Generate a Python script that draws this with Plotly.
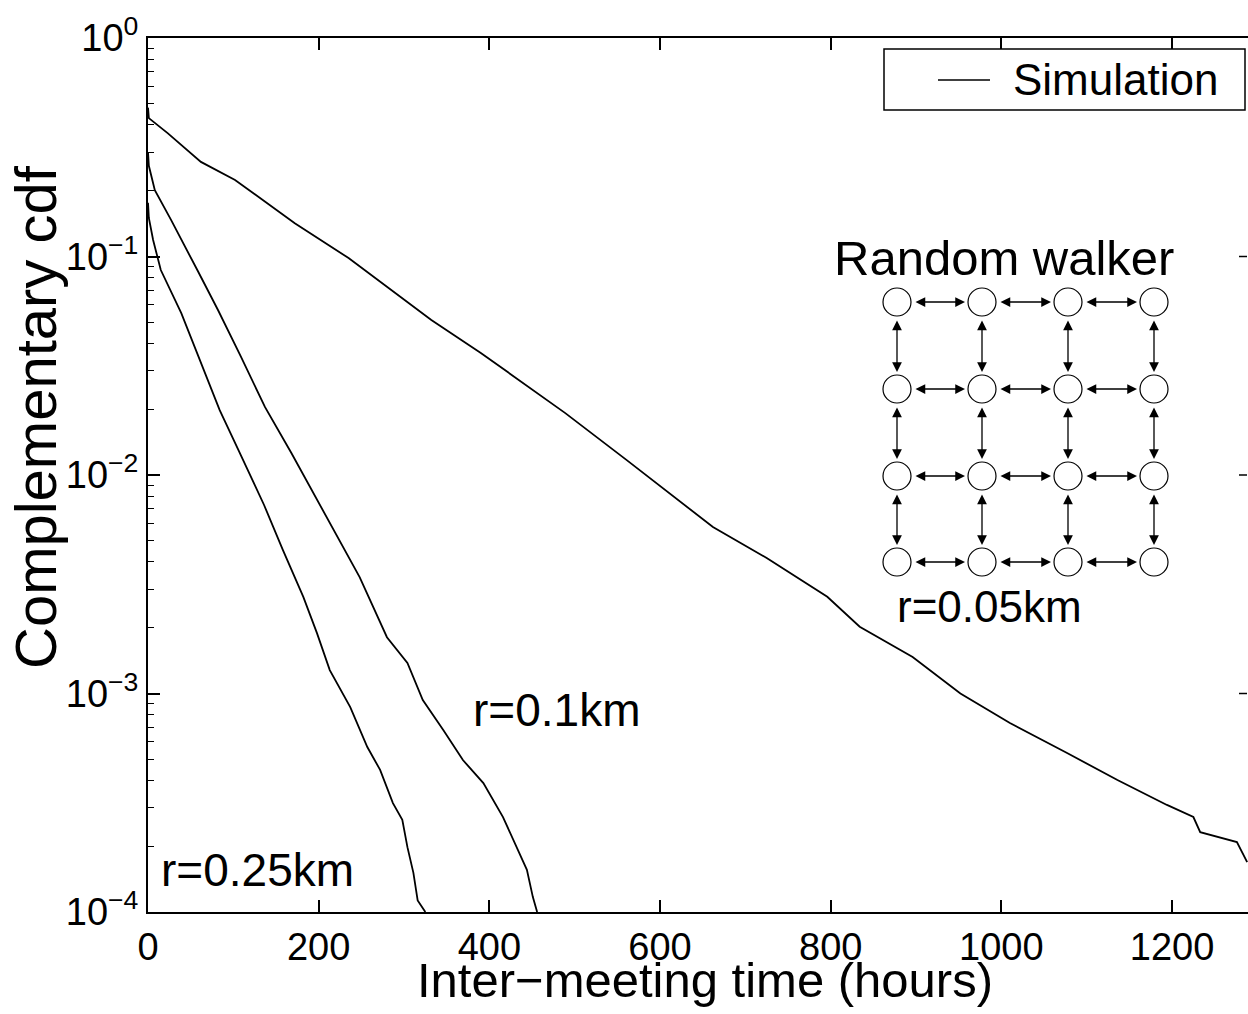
import plotly.graph_objects as go

# ---- data (hours, complementary cdf) ----
x_r005 = [0, 1, 23, 62, 102, 172, 235, 332, 390, 489, 561, 662, 725, 796, 834, 896,
          952, 1010, 1077, 1136, 1194, 1225, 1233, 1276, 1288]
y_r005 = [0.48, 0.43, 0.367, 0.271, 0.224, 0.142, 0.0984, 0.0512, 0.0362, 0.0192, 0.0117,
          0.00578, 0.00417, 0.00277, 0.00202, 0.00147, 0.00100, 0.000733, 0.000534,
          0.000402, 0.000309, 0.000272, 0.000232, 0.000209, 0.000169]

x_r01 = [0, 1, 8, 27, 59, 82, 109, 137, 168, 203, 248, 280, 304, 322, 346, 369, 393,
         416, 432, 444, 451, 456]
y_r01 = [0.301, 0.26, 0.201, 0.147, 0.0849, 0.0569, 0.0347, 0.0205, 0.0126, 0.00714,
         0.00341, 0.00181, 0.00138, 0.000934, 0.000681, 0.000496, 0.000389, 0.000272,
         0.000198, 0.000156, 0.000117, 0.0001]

x_r025 = [0, 1, 6, 15, 39, 62, 84, 106, 136, 158, 182, 198, 213, 237, 257, 272, 287,
          298, 304, 311, 316, 325]
y_r025 = [0.176, 0.15, 0.119, 0.0867, 0.0551, 0.0326, 0.0198, 0.0130, 0.00729, 0.00454,
          0.00277, 0.00189, 0.00128, 0.000867, 0.000569, 0.000447, 0.000315, 0.000264,
          0.000198, 0.000151, 0.000113, 0.0001]

series_names = ["Simulation", "Simulation", "Simulation"]
legend_label = "Simulation"
y_tickvals = [1e-4, 1e-3, 1e-2, 1e-1, 1]
y_ticktext = ["10<sup>−4</sup>", "10<sup>−3</sup>", "10<sup>−2</sup>",
              "10<sup>−1</sup>", "10<sup>0</sup>"]
y_minor = [k * 10.0 ** e for e in (-4, -3, -2, -1) for k in range(2, 10)]
x_tickvals = [0, 200, 400, 600, 800, 1000, 1200]

FONT = "Liberation Sans, Arial, Helvetica, sans-serif"
W, H = 1248, 1014
L, R, T, B = 148, 0, 38, 102
PW, PH = W - L - R, H - T - B  # 1100 x 874


def px(xpix):
    return (xpix - L) / PW


def py(ypix):
    return (H - B - ypix) / PH


fig = go.Figure()
for i, (xs, ys) in enumerate([(x_r005, y_r005), (x_r01, y_r01), (x_r025, y_r025)]):
    fig.add_trace(go.Scatter(
        x=xs, y=ys, mode="lines", name=series_names[i],
        line=dict(color="black", width=1.8),
        legendgroup="sim", showlegend=False,
    ))

shapes = []
annotations = []

# legend box (drawn to match the reference layout)
shapes.append(dict(type="rect", xref="paper", yref="paper",
                   x0=px(884), x1=px(1245), y0=py(110), y1=py(49),
                   line=dict(color="black", width=1.5), fillcolor="white", layer="above"))
shapes.append(dict(type="line", xref="paper", yref="paper",
                   x0=px(938), x1=px(990), y0=py(80), y1=py(80),
                   line=dict(color="black", width=1.5), layer="above"))
annotations.append(dict(xref="paper", yref="paper", x=px(1011), y=py(80),
                        text=legend_label, showarrow=False, xanchor="left",
                        yanchor="middle",
                        font=dict(family=FONT, size=44, color="black")))

# grid diagram (Random walker)
cx = [897, 982, 1068, 1154]
cy = [302, 389, 476, 562]
rad = 14
for xc in cx:
    for yc in cy:
        shapes.append(dict(type="circle", xref="paper", yref="paper",
                           x0=px(xc - rad), x1=px(xc + rad),
                           y0=py(yc + rad), y1=py(yc - rad),
                           line=dict(color="black", width=1.2),
                           fillcolor="white"))
gap = rad + 3
for yc in cy:
    for a, b in zip(cx[:-1], cx[1:]):
        annotations.append(dict(xref="paper", yref="paper", x=px(b - gap), y=py(yc),
                                ax=-(b - a - 2 * gap), ay=0, text="", showarrow=True,
                                arrowhead=2, startarrowhead=2, arrowside="end+start",
                                arrowsize=1.5, startarrowsize=1.5, arrowwidth=1.3,
                                arrowcolor="black"))
for xc in cx:
    for a, b in zip(cy[:-1], cy[1:]):
        annotations.append(dict(xref="paper", yref="paper", x=px(xc), y=py(b - gap),
                                ax=0, ay=-(b - a - 2 * gap), text="", showarrow=True,
                                arrowhead=2, startarrowhead=2, arrowside="end+start",
                                arrowsize=1.5, startarrowsize=1.5, arrowwidth=1.3,
                                arrowcolor="black"))

labels = [("Random walker", 1004, 258, 49),
          ("r=0.05km", 989, 606, 44),
          ("r=0.1km", 556, 710, 46),
          ("r=0.25km", 257, 870, 46)]
for txt, xx, yy, fs in labels:
    annotations.append(dict(xref="paper", yref="paper", x=px(xx), y=py(yy),
                            text=txt, showarrow=False, xanchor="center", yanchor="middle",
                            font=dict(family=FONT, size=fs, color="black")))

# axis titles placed as in the reference
annotations.append(dict(xref="paper", yref="paper", x=px(705), y=py(980),
                        text="Inter−meeting time (hours)", showarrow=False,
                        xanchor="center", yanchor="middle",
                        font=dict(family=FONT, size=49, color="black")))
annotations.append(dict(xref="paper", yref="paper", x=px(35), y=py(417),
                        text="Complementary cdf", showarrow=False, textangle=-90,
                        xanchor="center", yanchor="middle",
                        font=dict(family=FONT, size=58, color="black")))

# right-side decade ticks (right axis lies just outside the picture)
for v in range(1, 4):
    shapes.append(dict(type="line", xref="paper", yref="paper",
                       x0=1 - 9 / PW, x1=1 - 1 / PW, y0=v / 4, y1=v / 4,
                       line=dict(color="black", width=1.5)))

fig.update_layout(
    width=W, height=H,
    margin=dict(l=L, r=R, t=T, b=B, pad=0),
    paper_bgcolor="white", plot_bgcolor="white",
    font=dict(family=FONT, color="black", size=38),
    shapes=shapes, annotations=annotations,
    showlegend=False,
)
fig.update_xaxes(
    range=[0, 1289], tickmode="array", tickvals=x_tickvals,
    ticks="inside", ticklen=12, tickwidth=1.5, tickcolor="black",
    showline=True, linecolor="black", linewidth=2, mirror="ticks",
    showgrid=False, zeroline=False,
    tickfont=dict(family=FONT, size=38, color="black"),
)
fig.update_yaxes(
    type="log", range=[-4, 0], tickmode="array", tickvals=y_tickvals, ticktext=y_ticktext,
    ticks="inside", ticklen=12, tickwidth=1.5, tickcolor="black",
    minor=dict(tickmode="array", tickvals=y_minor, ticks="inside", ticklen=6,
               tickwidth=1.2, tickcolor="black", showgrid=False),
    showline=True, linecolor="black", linewidth=2, mirror=False,
    showgrid=False, zeroline=False,
    tickfont=dict(family=FONT, size=38, color="black"),
)

fig.write_html(
    "out.html",
    config={"displayModeBar": False},
    post_script="document.body.style.margin='0';document.body.style.overflow='hidden';",
)
